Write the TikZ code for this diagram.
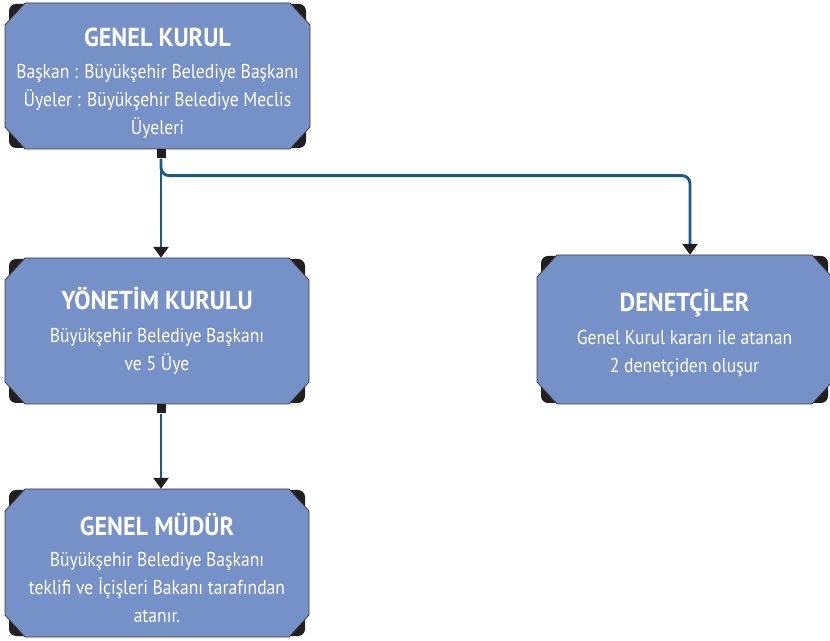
\documentclass[tikz,border=0pt]{standalone}
\usepackage{fontspec}
\setmainfont{PT Sans}[FakeStretch=0.88, BoldFeatures={FakeStretch=0.93}]
\usetikzlibrary{arrows.meta,calc}
\definecolor{boxblue}{RGB}{118,144,200}
\definecolor{cornerdark}{RGB}{35,31,32}
\definecolor{edgegray}{RGB}{60,60,60}
\definecolor{linkblue}{RGB}{27,90,135}
\newcommand\titlef{\fontsize{26}{30}\selectfont\bfseries}
\newcommand\orgbox[7]{%
  \pgfmathsetmacro\oxl{#2-#4/2}\pgfmathsetmacro\oxr{#2+#4/2}%
  \pgfmathsetmacro\oyt{#3+#5/2}\pgfmathsetmacro\oyb{#3-#5/2}%
  \fill[cornerdark, rounded corners=7pt] (\oxl+4,\oyb+1) rectangle (\oxr-4,\oyt-1);
  \filldraw[boxshape] (\oxl,\oyt-22) -- (\oxl+20,\oyt) -- (\oxr-20,\oyt) -- (\oxr,\oyt-22)
     -- (\oxr,\oyb+22) -- (\oxr-20,\oyb) -- (\oxl+20,\oyb) -- (\oxl,\oyb+22) -- cycle;
  \node[boxtext, minimum width=#4pt, minimum height=#5pt] (#1) at (#2,#3) {};
  \node[boxtext] (#1-text) at ([yshift=#6pt]#1.center) {#7};
}
\tikzset{
  boxshape/.style={fill=boxblue, draw=edgegray, line width=0.8pt},
  boxtext/.style={text=white, align=center, inner sep=0pt, font=\fontsize{20}{28}\selectfont},
  startsq/.style={fill=cornerdark, minimum size=9pt, inner sep=0pt, anchor=north},
  conn/.style={draw=linkblue, line width=2.9pt, -{Triangle[length=11pt,width=15pt,color=cornerdark]}},
}
\begin{document}
\begin{tikzpicture}[x=1pt,y=1pt]
\useasboundingbox (0,0) rectangle (830,640);
\fill[white] (0,0) rectangle (830,640);
\orgbox{gk}{157.5}{564}{305}{146}{-7}{{\titlef GENEL KURUL}\\[4pt]Başkan : Büyükşehir Belediye Başkanı\\Üyeler : Büyükşehir Belediye Meclis\\Üyeleri}
\orgbox{yk}{157}{309}{304}{146}{0}{{\titlef YÖNETİM KURULU}\\[5pt]Büyükşehir Belediye Başkanı\\ve 5 Üye}
\orgbox{dn}{684.5}{310.5}{295}{149}{-3}{{\titlef DENETÇİLER}\\[5pt]Genel Kurul kararı ile atanan\\2 denetçiden oluşur}
\orgbox{gm}{157}{77}{304}{148}{-5}{{\titlef GENEL MÜDÜR}\\[3pt]Büyükşehir Belediye Başkanı\\teklifi ve İçişleri Bakanı tarafından\\atanır.}
\node[startsq] (s1) at ([xshift=3.5pt]gk.south) {};
\node[startsq] (s2) at ([xshift=4pt]yk.south) {};
\coordinate (bend) at ([yshift=-17pt]s1.south);
\draw[conn] (s1.south) -- (s1.south |- yk.north);
\draw[conn, rounded corners=8pt] (s1.south) -- (bend) -| ([xshift=5.5pt]dn.north);
\draw[conn] (s2.south) -- (s2.south |- gm.north);
\end{tikzpicture}
\end{document}
